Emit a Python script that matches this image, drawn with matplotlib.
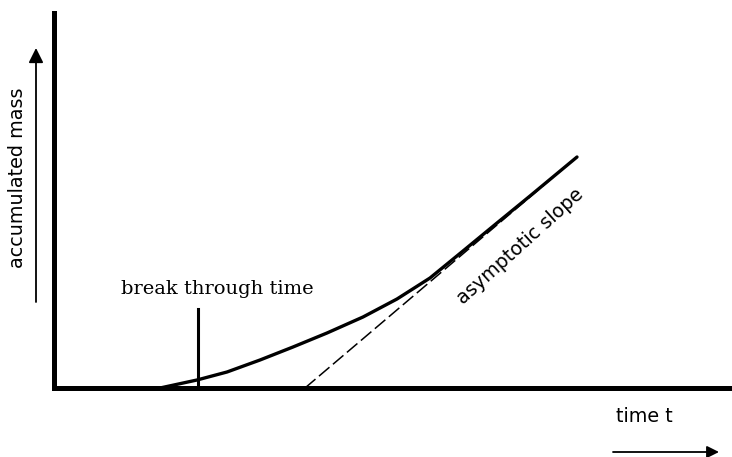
import matplotlib
matplotlib.use("Agg")
import matplotlib.pyplot as plt

# Breakthrough curve (time t, accumulated mass) in arbitrary units
curve_t = [2.12, 2.86, 3.46, 4.12, 4.78, 5.46, 6.18, 6.86, 7.52, 8.18, 8.86, 9.52, 10.46]
curve_m = [0.00, 0.16, 0.32, 0.56, 0.82, 1.10, 1.42, 1.78, 2.20, 2.74, 3.30, 3.84, 4.62]

# Asymptote: intercept with the time axis and end point
asym_t = [5.02, 10.46]
asym_m = [0.00, 4.62]

# Break through time marker
breakthrough_t = 2.88
marker_top = 1.58

y_label = "accumulated mass"
x_label = "time t"
bt_label = "break through time"
slope_label = "asymptotic slope"

fig = plt.figure(figsize=(7.32, 4.57), dpi=100)
ax = fig.add_axes([54/732, (457-388)/457, (732-54)/732, (388-13)/457])
ax.set_xlim(0, 13.56)
ax.set_ylim(0, 7.5)
for s in ["top", "right"]:
    ax.spines[s].set_visible(False)
for s in ["left", "bottom"]:
    ax.spines[s].set_linewidth(3.6)
    ax.spines[s].set_capstyle("projecting")
ax.set_xticks([])
ax.set_yticks([])

ax.plot(asym_t, asym_m, color="black", lw=1.1, ls=(0, (9, 3)), solid_capstyle="butt")
ax.plot(curve_t, curve_m, color="black", lw=2.4, solid_capstyle="round",
        solid_joinstyle="round")
ax.plot([breakthrough_t, breakthrough_t], [0, marker_top], color="black", lw=2.2)

sans = ["DejaVu Sans"]
ax.text(-0.72, 4.2, y_label, rotation=90, ha="center", va="center",
        fontsize=13.8, family=sans)
ax.text(11.8, -0.58, x_label, ha="center", va="center", fontsize=13.8, family=sans)
ax.text(3.26, 1.98, bt_label, ha="center", va="center", fontsize=14,
        family=["DejaVu Serif"])
ax.text(9.32, 2.84, slope_label, rotation=42, ha="center", va="center",
        fontsize=13.8, family=sans, rotation_mode="anchor")

ax.annotate("", xy=(-0.36, 6.8), xytext=(-0.36, 1.72), xycoords="data",
            annotation_clip=False,
            arrowprops=dict(arrowstyle="-|>", lw=1.3, color="black",
                            mutation_scale=22, shrinkA=0, shrinkB=0))
ax.annotate("", xy=(13.3, -1.28), xytext=(11.18, -1.28), xycoords="data",
            annotation_clip=False,
            arrowprops=dict(arrowstyle="-|>", lw=1.3, color="black",
                            mutation_scale=18, shrinkA=0, shrinkB=0))

fig.savefig("out.png", dpi=100, facecolor="white")
